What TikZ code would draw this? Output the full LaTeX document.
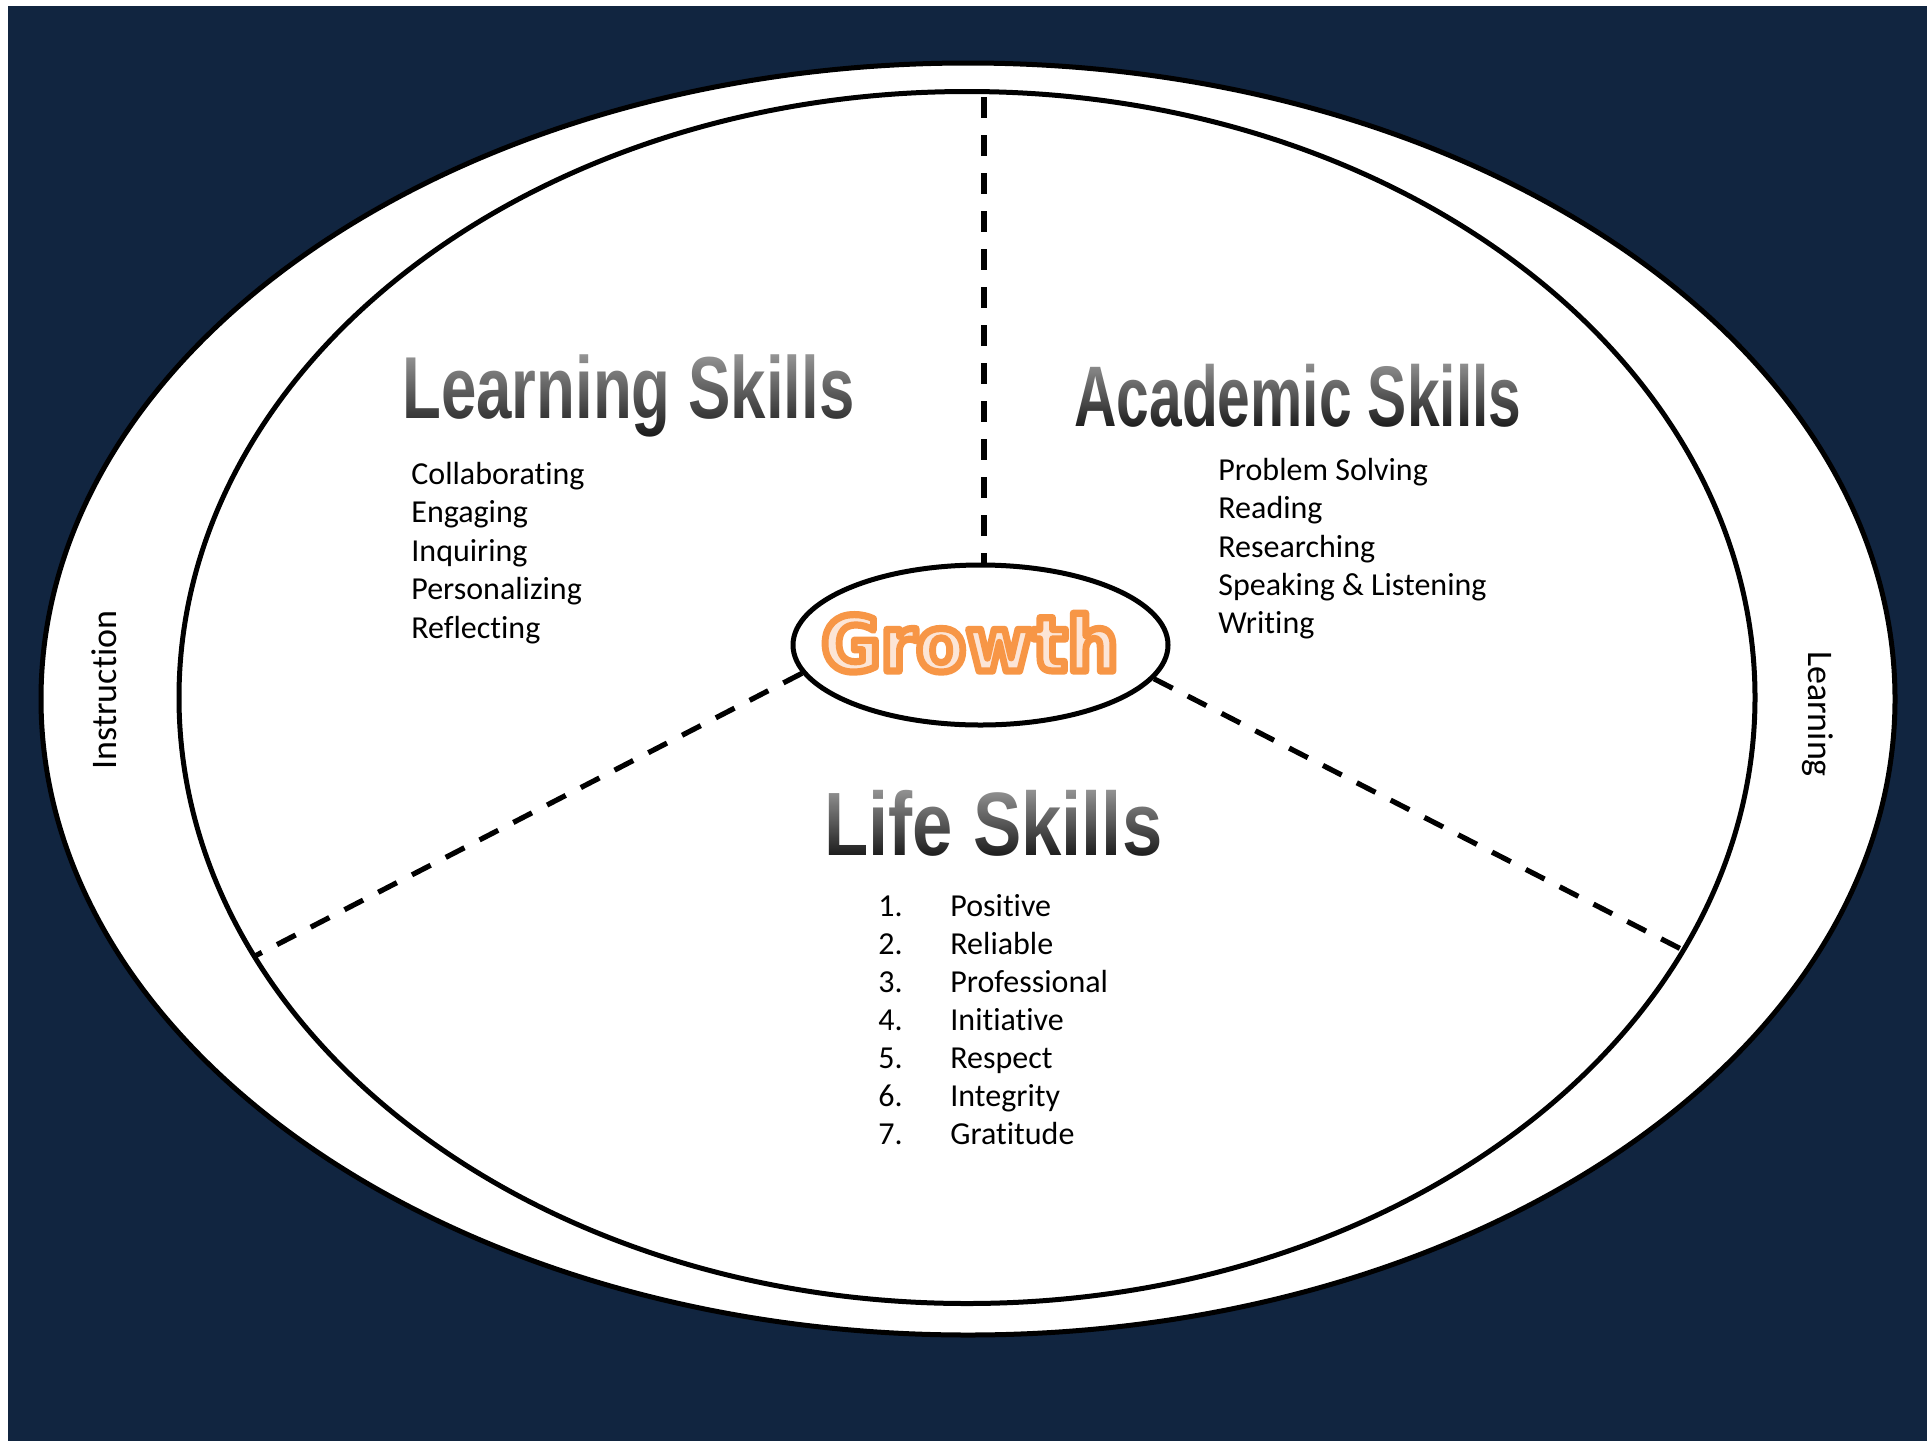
\documentclass[tikz,border=0pt]{standalone}
\usepackage{fontspec}
\setmainfont{Carlito}[Ligatures={NoCommon,NoRequired,NoContextual}]
\newfontfamily\titlefont{Liberation Sans}
\newfontfamily\growthfont{DejaVu Sans}
\usetikzlibrary{shapes.geometric,fadings}
\definecolor{navy}{RGB}{17,37,64}
\definecolor{growthfill}{RGB}{252,229,214}
\definecolor{titleink}{RGB}{17,17,17}
\tikzfading[name=topfade, top color=transparent!42, bottom color=transparent!100]
\newcommand\outlined[1]{\special{pdf:literal direct 2 Tr 3.6 w 1 j 0.969 0.588 0.275 RG}#1\special{pdf:literal direct 0 Tr}}
\begin{document}
\begin{tikzpicture}[x=0.5pt,y=-0.5pt,
  ring/.style={draw=black, line width=2.5pt, fill=white, ellipse, inner sep=0pt},
  item/.style={font=\fontsize{16}{19}\selectfont, anchor=base west, inner sep=0pt},
  side/.style={font=\fontsize{18}{21}\selectfont, inner sep=0pt},
  title/.style={anchor=base west, inner sep=0pt, text=titleink},
  divider/.style={line width=2.6pt, dash pattern=on 10.5pt off 8.5pt}]
\useasboundingbox (0,0) rectangle (1927,1441);
\fill[white] (0,0) rectangle (1927,1441);
\fill[navy] (8,6) rectangle (1927,1441);
\node[ring, minimum width=927pt, minimum height=636pt] (outer) at (968,699) {};
\node[ring, minimum width=788pt, minimum height=606pt] (inner) at (967,697.5) {};
\node[ring, minimum width=187.5pt, minimum height=80pt] (g) at (980.5,645) {};
% dividers
\coordinate (topend) at (984,97);
\coordinate (lend) at (253,957);
\coordinate (rend) at (1681,949);
\draw[divider] (topend) -- (topend |- g.north);
\draw[divider] (g.189) -- (lend);
\draw[divider] (g.-11) -- (rend);
% growth
\node[anchor=base, inner sep=0pt] (gt) at (970,671) {\scalebox{0.95}[1]{\growthfont\bfseries\fontsize{38}{42}\selectfont\color{growthfill}\outlined{Growth}}};
% titles
\node[title] (lt) at (402,418) {\resizebox{226pt}{\height}{\titlefont\bfseries\fontsize{44}{50}\selectfont Learning Skills}};
\node[title] (at) at (1074,426) {\resizebox{223.5pt}{\height}{\titlefont\bfseries\fontsize{43}{50}\selectfont Academic Skills}};
\node[title] (lf) at (824,855) {\resizebox{169pt}{\height}{\titlefont\bfseries\fontsize{45}{50}\selectfont Life Skills}};
\fill[white, path fading=topfade] (395,350) rectangle (865,442);
\fill[white, path fading=topfade] (1065,357) rectangle (1530,433);
\fill[white, path fading=topfade] (815,785) rectangle (1175,862);
% lists
\foreach \t [count=\i] in {Collaborating,Engaging,Inquiring,Personalizing,Reflecting}
  \node[item] (ls\i) at (411,{484.3+38.5*(\i-1)}) {\t};
\foreach \t [count=\i] in {Problem Solving,Reading,Researching,Speaking \& Listening,Writing}
  \node[item] (as\i) at (1218,{480.5+38.3*(\i-1)}) {\t};
\foreach \t [count=\i] in {Positive,Reliable,Professional,Initiative,Respect,Integrity,Gratitude}{
  \node[item] (fn\i) at (878,{916+38*(\i-1)}) {\i.};
  \node[item] (fw\i) at (950,{916+38*(\i-1)}) {\t};
}
% side labels
\node[side, rotate=90] (instr) at (104,690) {Instruction};
\node[side, rotate=-90] (learn) at (1818,714) {Learning};
\end{tikzpicture}
\end{document}
